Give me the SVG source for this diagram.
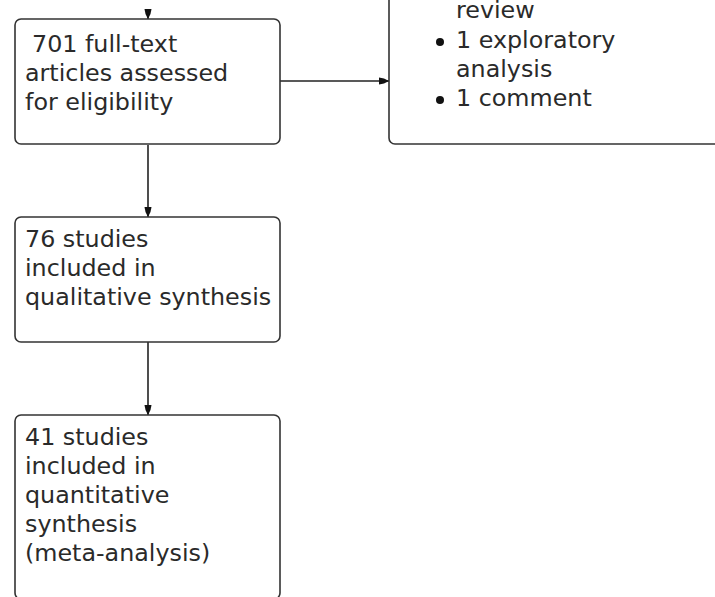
<svg xmlns="http://www.w3.org/2000/svg" width="715" height="597" viewBox="0 0 715 597">
<defs>
<style>
.box{fill:#fff;stroke:#333;stroke-width:1.6}
.t{font-family:"DejaVu Sans","Verdana",sans-serif;font-size:23.8px;fill:#2a2a2a}
.c{stroke:#222;stroke-width:1.6;fill:none}
</style>
<marker id="ah" markerWidth="10" markerHeight="9" refX="10" refY="4.5" orient="auto" markerUnits="userSpaceOnUse">
<path d="M0,1 L5,2 L10,4.5 L5,7 L0,8 Z" fill="#111"/>
</marker>
</defs>
<rect width="715" height="597" fill="#fff"/>
<g id="connectors">
<line class="c" x1="148" y1="9" x2="148" y2="19" marker-end="url(#ah)"/>
<line class="c" x1="280" y1="81" x2="389" y2="81" marker-end="url(#ah)"/>
<line class="c" x1="148" y1="145" x2="148" y2="217" marker-end="url(#ah)"/>
<line class="c" x1="148" y1="342" x2="148" y2="415" marker-end="url(#ah)"/>
</g>
<g id="node-fulltext">
<rect class="box" x="15" y="19" width="265" height="125" rx="6"/>
<text class="t" x="32" y="52">701 full-text</text>
<text class="t" x="25" y="81">articles assessed</text>
<text class="t" x="25" y="110">for eligibility</text>
</g>
<g id="node-excluded">
<rect class="box" x="389" y="-30" width="340" height="174" rx="6"/>
<text class="t" x="456" y="18">review</text>
<circle cx="440" cy="42" r="4" fill="#111"/>
<text class="t" x="456" y="48">1 exploratory</text>
<text class="t" x="456" y="77">analysis</text>
<circle cx="440" cy="100" r="4" fill="#111"/>
<text class="t" x="456" y="106">1 comment</text>
</g>
<g id="node-qualitative">
<rect class="box" x="15" y="217" width="265" height="125" rx="6"/>
<text class="t" x="25" y="247">76 studies</text>
<text class="t" x="25" y="276">included in</text>
<text class="t" x="25" y="305">qualitative synthesis</text>
</g>
<g id="node-quantitative">
<rect class="box" x="15" y="415" width="265" height="184" rx="6"/>
<text class="t" x="25" y="445">41 studies</text>
<text class="t" x="25" y="474">included in</text>
<text class="t" x="25" y="503">quantitative</text>
<text class="t" x="25" y="532">synthesis</text>
<text class="t" x="25" y="561">(meta-analysis)</text>
</g>
</svg>
